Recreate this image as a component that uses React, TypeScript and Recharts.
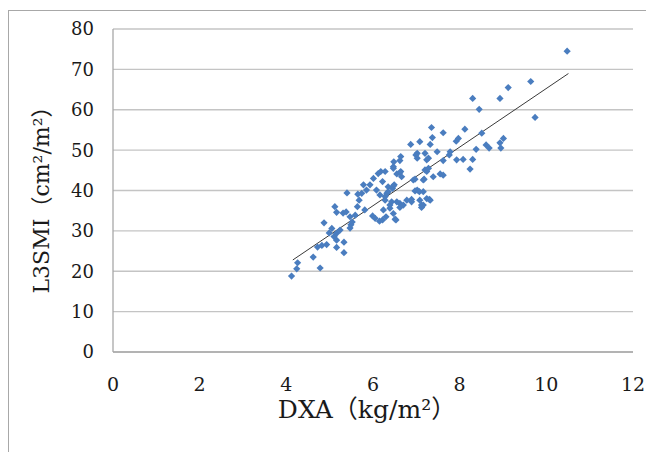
import React from 'react';
import { ScatterChart, Scatter, XAxis, YAxis, CartesianGrid, ReferenceLine, Label } from 'recharts';

const dxa = [
  4.12, 4.24, 4.26, 4.62, 4.78, 4.72, 4.82, 4.93, 4.87, 4.99,
  5.05, 5.10, 5.16, 5.16, 5.33, 5.33, 5.24, 5.16, 5.12, 5.16,
  5.31, 5.38, 5.40, 5.47, 5.47, 5.49, 5.52, 5.59, 5.64, 5.68,
  5.65, 5.74, 5.78, 5.81, 5.85, 5.93, 5.99, 6.01, 6.05, 6.08,
  6.12, 6.15, 6.16, 6.18, 6.22, 6.22, 6.24, 6.28, 6.28, 6.28,
  6.30, 6.32, 6.35, 6.35, 6.39, 6.39, 6.43, 6.45, 6.47, 6.47,
  6.47, 6.47, 6.48, 6.49, 6.51, 6.53, 6.55, 6.55, 6.62, 6.62,
  6.62, 6.62, 6.64, 6.64, 6.66, 6.70, 6.78, 6.87, 6.89, 6.89,
  6.93, 6.97, 6.97, 6.99, 7.02, 7.02, 7.02, 7.07, 7.08, 7.08,
  7.12, 7.12, 7.16, 7.16, 7.16, 7.18, 7.20, 7.20, 7.24, 7.24,
  7.24, 7.28, 7.28, 7.30, 7.32, 7.32, 7.35, 7.37, 7.39, 7.48,
  7.55, 7.62, 7.62, 7.62, 7.76, 7.78, 7.92, 7.93, 7.97, 8.08,
  8.12, 8.24, 8.30, 8.30, 8.38, 8.45, 8.51, 8.61, 8.68, 8.93,
  8.93, 8.95, 9.01, 9.12, 9.64, 9.74, 10.48,
];

const l3smi = [
  18.8, 20.6, 22.1, 23.5, 20.8, 26.0, 26.4, 26.6, 32.0, 29.5,
  30.6, 28.6, 25.9, 27.7, 24.6, 27.2, 30.2, 34.6, 36.0, 29.4,
  34.4, 34.7, 39.4, 30.7, 33.5, 31.5, 32.2, 33.9, 36.0, 37.6,
  39.1, 39.3, 41.4, 35.2, 40.1, 41.4, 33.7, 43.0, 33.1, 40.1,
  44.2, 32.4, 38.9, 44.7, 42.2, 32.7, 35.2, 37.6, 38.5, 44.7,
  33.5, 39.3, 40.9, 39.7, 35.6, 36.4, 37.2, 40.5, 45.9, 45.5,
  41.1, 34.3, 47.1, 41.4, 32.9, 32.7, 37.2, 44.1, 47.4, 44.4,
  36.8, 35.8, 48.4, 44.7, 43.4, 36.4, 37.6, 51.4, 37.8, 37.2,
  42.6, 42.8, 39.9, 48.8, 49.2, 48.0, 40.1, 39.7, 52.1, 37.6,
  36.4, 35.8, 42.6, 36.4, 39.7, 42.8, 49.2, 45.1, 47.6, 44.7,
  38.0, 48.0, 45.5, 37.8, 51.4, 37.6, 55.6, 53.1, 43.4, 49.6,
  44.1, 54.3, 47.4, 43.8, 48.8, 49.6, 52.2, 47.6, 52.9, 47.7,
  55.2, 45.3, 62.8, 47.7, 50.2, 60.1, 54.2, 51.3, 50.5, 62.8,
  51.8, 50.5, 52.9, 65.5, 67.0, 58.1, 74.5,
];

const xTicks = [0, 2, 4, 6, 8, 10, 12];
const yTicks = [0, 10, 20, 30, 40, 50, 60, 70, 80];

const trendSlope = 7.26;
const trendIntercept = -7.33;
const trendStart = 4.15;
const trendEnd = 10.51;

const xTitle = 'DXA（kg/m²）';
const yTitle = 'L3SMI（cm²/m²）';

const points = dxa.map((x, i) => ({ x, y: l3smi[i] }));
const trendSegment = [
  { x: trendStart, y: trendSlope * trendStart + trendIntercept },
  { x: trendEnd, y: trendSlope * trendEnd + trendIntercept },
];

const FONT = '"DejaVu Serif", "Noto Sans CJK JP", serif';

const Diamond = (props: any) => {
  const { cx, cy } = props;
  if (cx == null || cy == null) return null;
  const r = 3.6;
  return (
    <polygon
      points={`${cx},${cy - r} ${cx + r},${cy} ${cx},${cy + r} ${cx - r},${cy}`}
      fill="#4a7dbf"
    />
  );
};

export default function App() {
  return (
    <div style={{ position: 'absolute', left: 0, top: 0, width: 646, height: 452, background: '#fff', overflow: 'hidden' }}>
      <div
        style={{
          position: 'absolute',
          left: 8,
          top: 10,
          width: 700,
          height: 500,
          borderTop: '1px solid #a8a8a8',
          borderLeft: '1px solid #a8a8a8',
        }}
      />
      <div style={{ position: 'absolute', left: 0, top: 0 }}>
        <ScatterChart width={646} height={452} margin={{ top: 29, right: 13, bottom: 0, left: 0 }}>
          <CartesianGrid vertical={false} stroke="#c4c4c4" strokeWidth={1.3} />
          <XAxis
            type="number"
            dataKey="x"
            domain={[0, 12]}
            ticks={xTicks}
            height={100}
            tickLine={false}
            tickSize={0}
            tickMargin={26}
            axisLine={{ stroke: '#a8a8a8', strokeWidth: 1.3 }}
            tick={{ fill: '#1a1a1a', fontSize: 19, fontFamily: FONT }}
            interval={0}
          >
            <Label
              content={(p: any) => {
                const vb = p.viewBox || { x: 113, y: 352, width: 520, height: 100 };
                return (
                  <text
                    x={vb.x + vb.width / 2 - 6}
                    y={vb.y + 66}
                    textAnchor="middle"
                    fontFamily={FONT}
                    fontSize={25}
                    fill="#1a1a1a"
                  >
                    {xTitle}
                  </text>
                );
              }}
            />
          </XAxis>
          <YAxis
            type="number"
            dataKey="y"
            domain={[0, 80]}
            ticks={yTicks}
            width={113}
            tickLine={false}
            tickSize={0}
            tickMargin={19}
            axisLine={{ stroke: '#a8a8a8', strokeWidth: 1.3 }}
            tick={{ fill: '#1a1a1a', fontSize: 18, fontFamily: FONT }}
            interval={0}
          >
            <Label
              content={(p: any) => {
                const vb = p.viewBox || { x: 0, y: 29, width: 113, height: 323 };
                const cx = vb.x + 41;
                const cy = vb.y + vb.height / 2 + 4;
                return (
                  <text
                    x={cx}
                    y={cy}
                    transform={`rotate(-90, ${cx}, ${cy})`}
                    textAnchor="middle"
                    dominantBaseline="central"
                    fontFamily={FONT}
                    fontSize={22}
                    fill="#1a1a1a"
                  >
                    {yTitle}
                  </text>
                );
              }}
            />
          </YAxis>
          <Scatter data={points} shape={<Diamond />} isAnimationActive={false} />
          <ReferenceLine segment={trendSegment} stroke="#3a3a3a" strokeWidth={1} ifOverflow="visible" />
        </ScatterChart>
      </div>
    </div>
  );
}
